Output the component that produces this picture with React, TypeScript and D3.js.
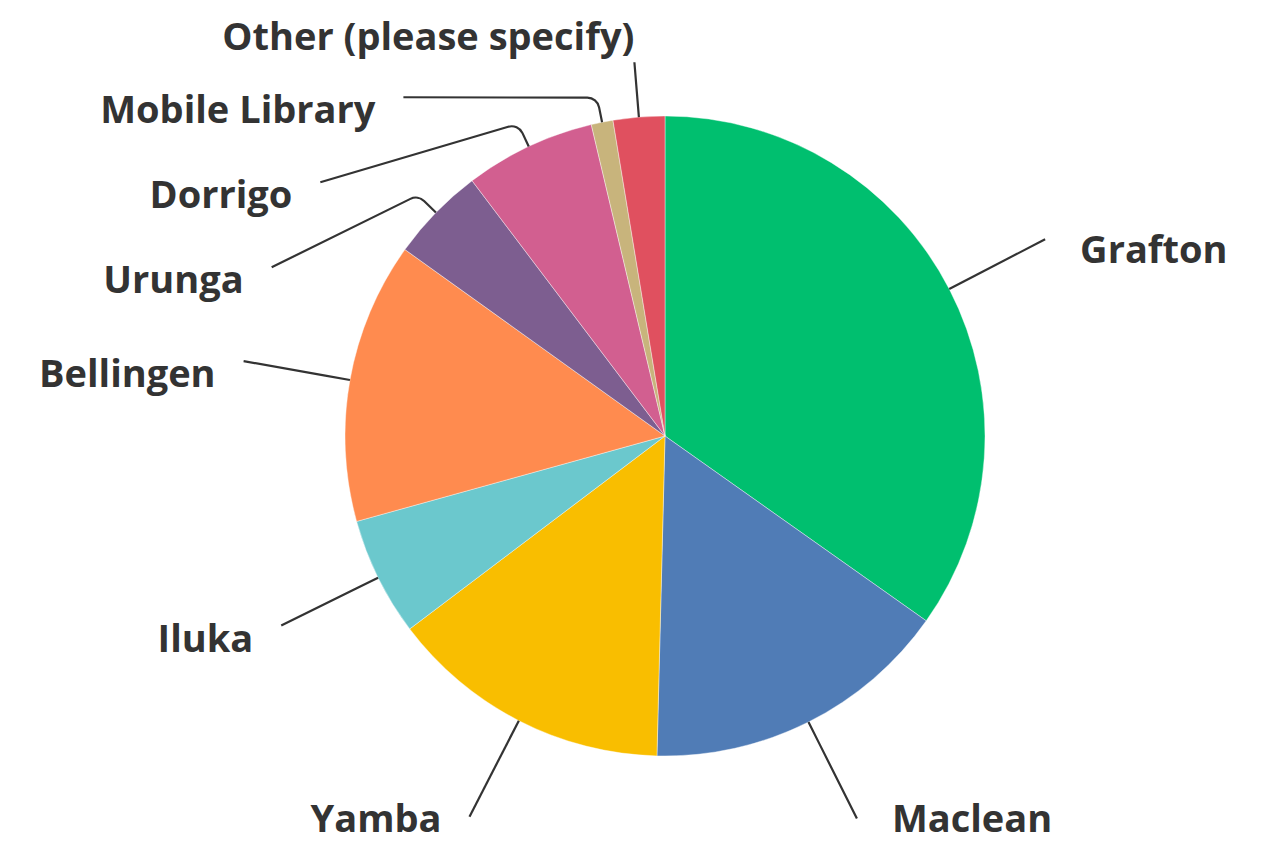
import { useMemo } from "react";
import * as d3 from "d3";

const WIDTH = 1268;
const HEIGHT = 844;
const CX = 665;
const CY = 436;
const RADIUS = 320;
const ELBOW = 25;
const LABEL_RADIUS = RADIUS + 108;
const LABEL_GAP = 85;
const FONT_SIZE = 38;

const categories = [
  "Grafton",
  "Maclean",
  "Yamba",
  "Iluka",
  "Bellingen",
  "Urunga",
  "Dorrigo",
  "Mobile Library",
  "Other (please specify)",
];
const shares = [34.8, 15.6, 14.3, 6.0, 14.2, 4.8, 6.6, 1.1, 2.6];
const colors = [
  "#00bf6f",
  "#507cb6",
  "#f9be00",
  "#6bc8cd",
  "#ff8b4f",
  "#7d5e90",
  "#d25f90",
  "#c8b47c",
  "#e0505f",
];

type Datum = { name: string; value: number; color: string };

const polar = (angle: number, r: number): [number, number] => [
  CX + r * Math.sin(angle),
  CY - r * Math.cos(angle),
];

export default function App() {
  const data: Datum[] = categories.map((name, i) => ({
    name,
    value: shares[i],
    color: colors[i],
  }));

  const slices = useMemo(
    () => d3.pie<Datum>().sort(null).value((d) => d.value)(data),
    []
  );

  const arc = d3
    .arc<d3.PieArcDatum<Datum>>()
    .innerRadius(0)
    .outerRadius(RADIUS);

  // label layout: right side straight out, left side pushed down to avoid overlap
  const labels = useMemo(() => {
    const out: {
      name: string;
      path: string;
      tx: number;
      ty: number;
      anchor: string;
    }[] = [];
    const mids = slices.map((s) => (s.startAngle + s.endAngle) / 2);
    const topLimit = (10 * Math.PI) / 180;
    const maxBaseline = HEIGHT - 12;
    let minY = -Infinity;

    const makePath = (mid: number, end: [number, number]) => {
      const p0 = polar(mid, RADIUS);
      const p1 = polar(mid, RADIUS + ELBOW);
      const p = d3.path();
      p.moveTo(p0[0], p0[1]);
      p.arcTo(p1[0], p1[1], end[0], end[1], 12);
      p.lineTo(end[0], end[1]);
      return p.toString();
    };

    // top label (close to 12 o'clock)
    slices.forEach((s, i) => {
      const mid = mids[i];
      if (mid > 2 * Math.PI - topLimit) {
        const end = polar(mid, RADIUS + 55);
        out.push({
          name: s.data.name,
          path: makePath(mid, end),
          tx: end[0],
          ty: end[1] - 12,
          anchor: "end",
        });
        minY = end[1] + 35;
      }
    });

    slices.forEach((s, i) => {
      const mid = mids[i];
      if (mid < Math.PI) {
        const end = polar(mid, LABEL_RADIUS);
        out.push({
          name: s.data.name,
          path: makePath(mid, end),
          tx: end[0] + 35,
          ty: Math.min(end[1] + 24, maxBaseline),
          anchor: "start",
        });
      }
    });

    const left = slices
      .map((s, i) => ({ s, mid: mids[i] }))
      .filter((d) => d.mid >= Math.PI && d.mid <= 2 * Math.PI - topLimit)
      .sort((a, b) => b.mid - a.mid);
    let prevY = minY - LABEL_GAP;
    left.forEach(({ s, mid }) => {
      const natural = CY - LABEL_RADIUS * Math.cos(mid);
      const y = Math.max(natural, prevY + LABEL_GAP);
      prevY = y;
      const dy = y - CY;
      const x = CX - Math.sqrt(Math.max(0, LABEL_RADIUS ** 2 - dy ** 2));
      const end: [number, number] = [x, y];
      out.push({
        name: s.data.name,
        path: makePath(mid, end),
        tx: x - 28,
        ty: Math.min(y + 26, maxBaseline),
        anchor: "end",
      });
    });
    return out;
  }, [slices]);

  return (
    <svg
      width={WIDTH}
      height={HEIGHT}
      style={{ position: "absolute", left: 0, top: 0, background: "#fff" }}
    >
      <g transform={`translate(${CX},${CY})`}>
        {slices.map((s, i) => (
          <path
            key={i}
            d={arc(s) || ""}
            fill={s.data.color}
            stroke="#fff"
            strokeWidth={0.4}
          />
        ))}
      </g>
      <g>
        {labels.map((l, i) => (
          <g key={i}>
            <path d={l.path} fill="none" stroke="#333" strokeWidth={2.2} />
            <text
              x={l.tx}
              y={l.ty}
              textAnchor={l.anchor}
              fontFamily="'Open Sans', sans-serif"
              fontWeight={700}
              fontSize={FONT_SIZE}
              fill="#333"
            >
              {l.name}
            </text>
          </g>
        ))}
      </g>
    </svg>
  );
}
